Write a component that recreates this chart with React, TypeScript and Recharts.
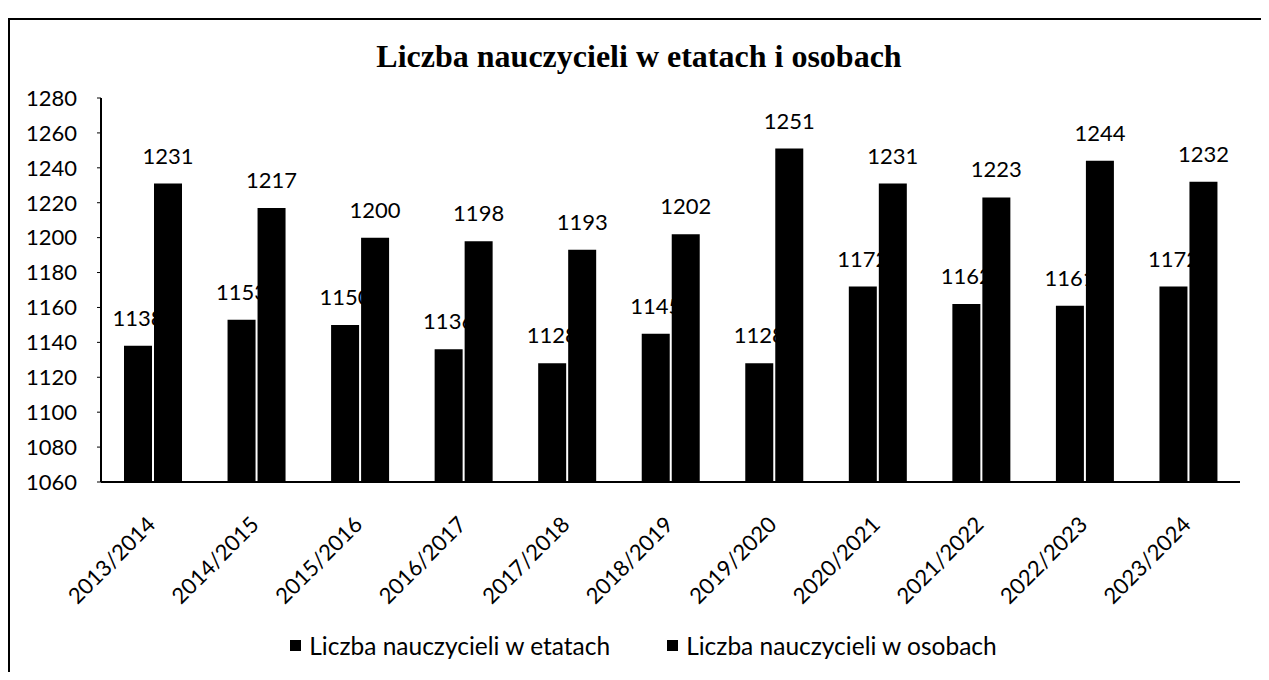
import React from "react";
import { BarChart, Bar, XAxis, YAxis, Legend, LabelList } from "recharts";

const years = [
  "2013/2014", "2014/2015", "2015/2016", "2016/2017", "2017/2018", "2018/2019",
  "2019/2020", "2020/2021", "2021/2022", "2022/2023", "2023/2024",
];
const etaty = [1138, 1153, 1150, 1136, 1128, 1145, 1128, 1172, 1162, 1161, 1172];
const osoby = [1231, 1217, 1200, 1198, 1193, 1202, 1251, 1231, 1223, 1244, 1232];
const yTicks = [1060, 1080, 1100, 1120, 1140, 1160, 1180, 1200, 1220, 1240, 1260, 1280];

const data = years.map((rok, i) => ({ rok, etaty: etaty[i], osoby: osoby[i] }));

const FONT = "Lato, 'Open Sans', sans-serif";

const XTick = ({ x, y, payload }: any) => (
  <g transform={`translate(${x + 4},${y + 36})`}>
    <text textAnchor="end" transform="rotate(-45)" fontSize={22} fontFamily={FONT} fill="#000">
      {payload.value}
    </text>
  </g>
);

const LegendBox = () => (
  <div
    style={{
      height: 40,
      display: "flex",
      justifyContent: "center",
      alignItems: "center",
      gap: 57,
      paddingLeft: 37,
      fontFamily: FONT,
      fontSize: 24.5,
      color: "#000",
    }}
  >
    {["Liczba nauczycieli w etatach", "Liczba nauczycieli w osobach"].map((t) => (
      <span key={t} style={{ display: "flex", alignItems: "center" }}>
        <span style={{ width: 11, height: 11, background: "#000", marginRight: 8, display: "inline-block" }} />
        {t}
      </span>
    ))}
  </div>
);

export default function App() {
  return (
    <div style={{ paddingTop: 10 }}>
      <div
        style={{
          position: "relative",
          width: 1259,
          height: 652,
          borderLeft: "2px solid #000",
          borderTop: "2px solid #000",
          background: "#fff",
        }}
      >
        <div
          style={{
            position: "absolute",
            top: 18,
            left: 0,
            width: 1250,
            textAlign: "center",
            fontFamily: "'Liberation Serif', 'Times New Roman', serif",
            fontWeight: "bold",
            fontSize: 32,
            paddingLeft: 4,
          }}
        >
          Liczba nauczycieli w etatach i osobach
        </div>
        <BarChart
          width={1250}
          height={650}
          data={data}
          barSize={28}
          barGap={2}
          margin={{ top: 78, right: 20, left: 0, bottom: 5 }}
        >
          <XAxis
            dataKey="rok"
            interval={0}
            height={143}
            tickLine={false}
            axisLine={{ stroke: "#000", strokeWidth: 2 }}
            tick={<XTick />}
          />
          <YAxis
            width={91}
            domain={[1060, 1280]}
            ticks={yTicks}
            interval={0}
            allowDataOverflow
            tickSize={4}
            tickMargin={20}
            axisLine={{ stroke: "#000", strokeWidth: 2 }}
            tickLine={{ stroke: "#000" }}
            tick={{ fill: "#000", fontSize: 22, fontFamily: FONT }}
          />
          <Legend verticalAlign="bottom" content={<LegendBox />} />
          <Bar dataKey="etaty" name="Liczba nauczycieli w etatach" fill="#000" isAnimationActive={false}>
            <LabelList dataKey="etaty" position="top" offset={20} fill="#000" fontSize={22} fontFamily={FONT} />
          </Bar>
          <Bar dataKey="osoby" name="Liczba nauczycieli w osobach" fill="#000" isAnimationActive={false}>
            <LabelList dataKey="osoby" position="top" offset={20} fill="#000" fontSize={22} fontFamily={FONT} />
          </Bar>
        </BarChart>
      </div>
    </div>
  );
}
